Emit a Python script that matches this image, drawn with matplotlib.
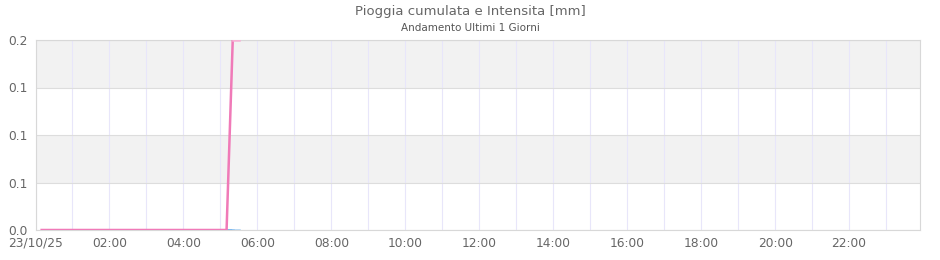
import datetime as dt
import matplotlib
matplotlib.use("Agg")
import matplotlib.pyplot as plt
import matplotlib.dates as mdates
from matplotlib.ticker import FixedLocator, FormatStrFormatter

DAY = "2025-10-23"
X_START = "00:00"
X_END = "23:55"

# data
times = ["00:10", "05:10", "05:20", "05:30"]
cumulata = [0.0, 0.0, 0.2, 0.2]
intensita = [0.0, 0.0, 0.0, 0.0]

y_ticks = [0.0, 0.05, 0.1, 0.15, 0.2]

PINK = "#f07ab8"
PINK_PALE = "#f6b3d6"
BLUE = "#5aa6e8"
BLUE_PALE = "#a9d0f2"
TXT = "#666666"


def to_dt(hhmm):
    return dt.datetime.strptime(DAY + " " + hhmm, "%Y-%m-%d %H:%M")


t = [to_dt(s) for s in times]

fig = plt.figure(figsize=(9.4, 2.6), dpi=100)
ax = fig.add_axes([35.5 / 940, 30 / 260, (920 - 35.5) / 940, 190 / 260])

# alternating bands
for i in range(len(y_ticks) - 1):
    if i % 2 == 1:
        ax.axhspan(y_ticks[i], y_ticks[i + 1], color="#f2f2f2", zorder=0, lw=0)

ax.set_ylim(y_ticks[0], y_ticks[-1])
ax.set_xlim(to_dt(X_START), to_dt(X_END))

ax.yaxis.set_major_locator(FixedLocator(y_ticks))
ax.yaxis.set_major_formatter(FormatStrFormatter("%.1f"))

ax.xaxis.set_major_locator(mdates.HourLocator(byhour=range(0, 24, 2)))
ax.xaxis.set_minor_locator(mdates.HourLocator())


def fmt_x(v, pos):
    d = mdates.num2date(v)
    if d.hour == 0 and d.minute == 0:
        return d.strftime("%d/%m/%y")
    return d.strftime("%H:%M")


ax.xaxis.set_major_formatter(plt.FuncFormatter(fmt_x))

ax.grid(axis="x", which="both", color="#e8e6fa", lw=0.8, zorder=1)
ax.grid(axis="y", which="major", color="#dddddd", lw=0.8, zorder=1)
ax.tick_params(which="both", length=0, labelsize=8.8, colors=TXT)
ax.tick_params(axis="y", pad=6)
ax.tick_params(axis="x", pad=5)
for sp in ax.spines.values():
    sp.set_color("#d8d8d8")
    sp.set_linewidth(0.8)

# intensity below, cumulative on top; last segment paler
ax.plot(t[:-1], intensita[:-1], color=BLUE, lw=1.8, zorder=3)
ax.plot(t[-2:], intensita[-2:], color=BLUE_PALE, lw=1.8, zorder=3)
ax.plot(t[:-1], cumulata[:-1], color=PINK, lw=1.8, zorder=4)
ax.plot(t[-2:], cumulata[-2:], color=PINK_PALE, lw=1.8, zorder=4)

fig.text(0.5, 1 - 11 / 260, "Pioggia cumulata e Intensita [mm]", ha="center",
         va="center", fontsize=9.5, color=TXT)
fig.text(0.5, 1 - 28 / 260, "Andamento Ultimi 1 Giorni", ha="center",
         va="center", fontsize=7.5, color="#555555")

fig.savefig("out.png", dpi=100)
